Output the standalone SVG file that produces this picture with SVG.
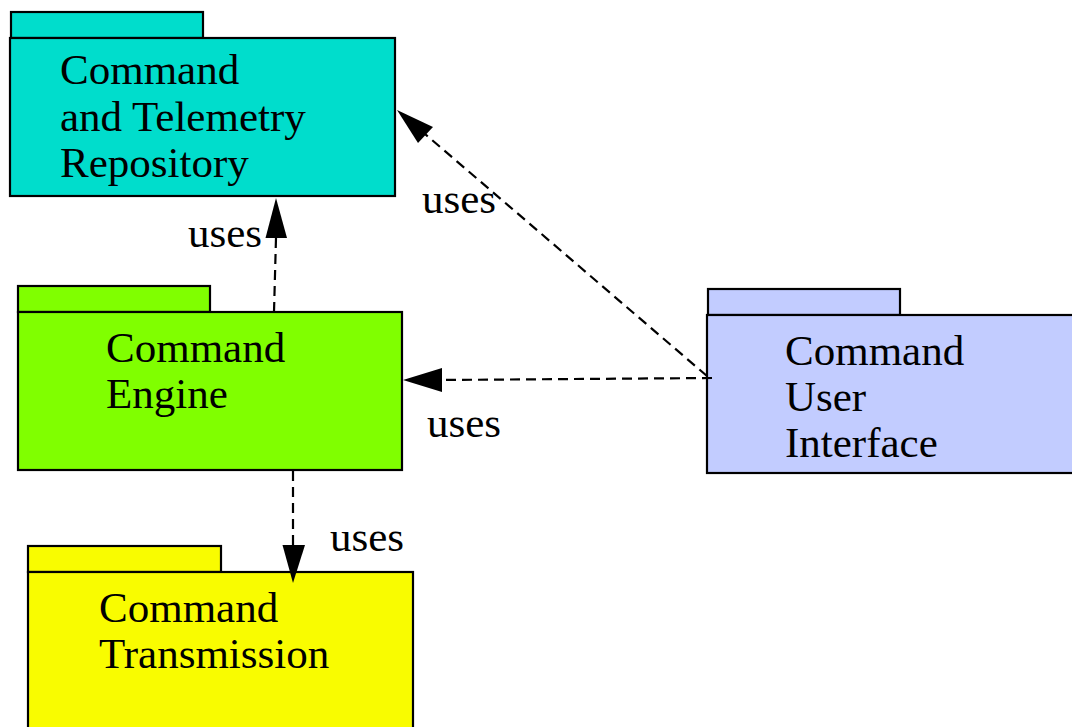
<svg xmlns="http://www.w3.org/2000/svg" width="1072" height="727" viewBox="0 0 1072 727">
<style>
.box{stroke:#000;stroke-width:2.2}
.t{font-family:"Liberation Serif","Times New Roman",serif;font-size:43px;fill:#000}
.dep{fill:none;stroke:#000;stroke-width:2.2;stroke-dasharray:10 6}
.ah{fill:#000}
</style>
<rect width="1072" height="727" fill="#fff"/>
<g id="repository">
<rect class="box" x="11" y="12" width="192" height="26" fill="#00DDCC"/>
<rect class="box" x="10" y="38" width="385" height="158" fill="#00DDCC"/>
<text class="t" x="60" y="84">Command</text>
<text class="t" x="60" y="131">and Telemetry</text>
<text class="t" x="60" y="177">Repository</text>
</g>
<g id="engine">
<rect class="box" x="18" y="286" width="192" height="26" fill="#80FF00"/>
<rect class="box" x="18" y="312" width="384" height="158" fill="#80FF00"/>
<text class="t" x="106" y="362">Command</text>
<text class="t" x="106" y="408">Engine</text>
</g>
<g id="ui">
<rect class="box" x="708" y="289" width="192" height="26" fill="#C2CCFF"/>
<rect class="box" x="707" y="315" width="380" height="158" fill="#C2CCFF"/>
<text class="t" x="785" y="365">Command</text>
<text class="t" x="785" y="411">User</text>
<text class="t" x="785" y="457">Interface</text>
</g>
<g id="transmission">
<rect class="box" x="28" y="546" width="193" height="26" fill="#F9FC00"/>
<rect class="box" x="28" y="572" width="385" height="170" fill="#F9FC00"/>
<text class="t" x="99" y="622">Command</text>
<text class="t" x="99" y="668">Transmission</text>
</g>
<g id="connectors">
<path class="dep" d="M274 312 L276 238"/>
<polygon class="ah" points="276,198 265.5,238 287,238"/>
<text class="t" x="188" y="247">uses</text>
<path class="dep" d="M707 376 L425 134"/>
<polygon class="ah" points="397,110 433,127 418,143"/>
<text class="t" x="422" y="213">uses</text>
<path class="dep" d="M712 378 L441 380"/>
<polygon class="ah" points="403,380 442,368 442,392"/>
<text class="t" x="427" y="437">uses</text>
<path class="dep" d="M293 471 L293 545"/>
<polygon class="ah" points="293,583 282.5,545 305,545"/>
<text class="t" x="330" y="551">uses</text>
</g>
</svg>
